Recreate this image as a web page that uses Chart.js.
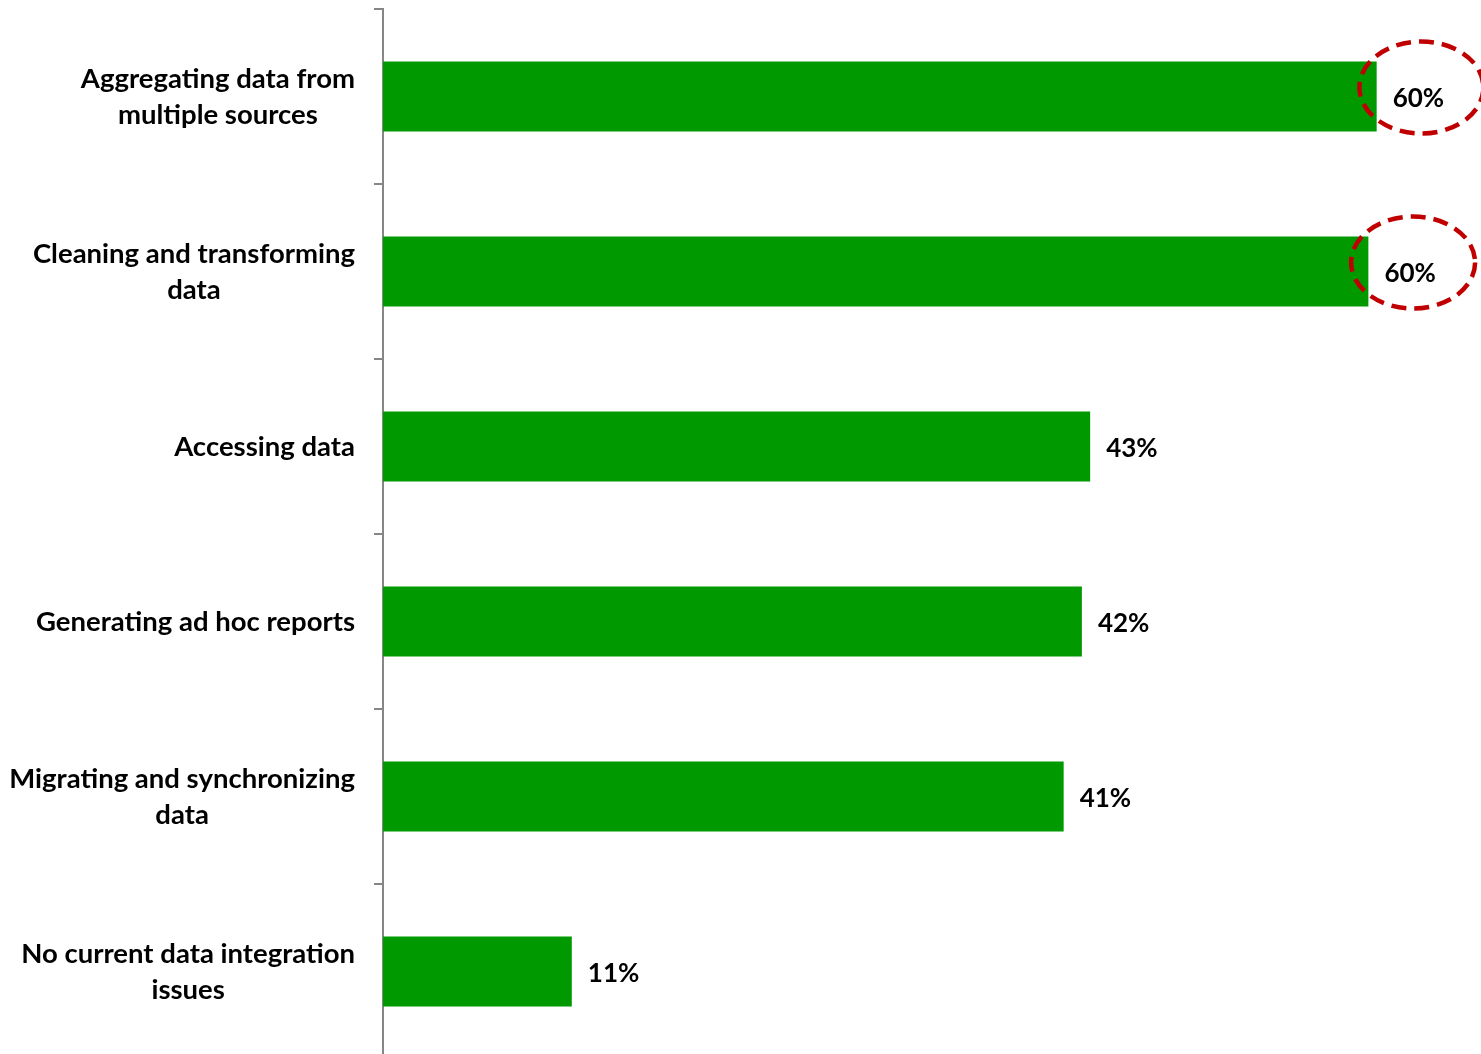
<!DOCTYPE html>
<html>
<head>
<meta charset="utf-8">
<script src="https://cdn.jsdelivr.net/npm/chart.js@4"></script>
<style>
  html, body { margin: 0; padding: 0; background: #fff; overflow: hidden; }
  canvas { display: block; }
</style>
</head>
<body>
<canvas id="myChart" width="1481" height="1062"></canvas>
<script>
const categories = [
  ["Aggregating data from", "multiple sources"],
  ["Cleaning and transforming", "data"],
  ["Accessing data"],
  ["Generating ad hoc reports"],
  ["Migrating and synchronizing", "data"],
  ["No current data integration", "issues"],
];
const values = [60.0, 59.5, 42.7, 42.2, 41.1, 11.4];
const circled = [true, true, false, false, false, false];

const labelFont = "bold 27.5px Lato";
const valueFont = "bold 26px Lato";

// category labels: block right-aligned, lines centered inside the block
const categoryLabels = {
  id: "categoryLabels",
  afterDraw: (chart) => {
    const ctx = chart.ctx;
    const yScale = chart.scales.y;
    const rightEdge = yScale.right - 28;
    ctx.save();
    ctx.font = labelFont;
    ctx.fillStyle = "#000";
    ctx.textAlign = "center";
    ctx.textBaseline = "middle";
    categories.forEach((lines, i) => {
      const y = yScale.getPixelForValue(i);
      const widest = Math.max(...lines.map((l) => ctx.measureText(l).width));
      const cx = rightEdge - widest / 2;
      lines.forEach((line, j) => {
        ctx.fillText(line, cx, y + 1 + (j - (lines.length - 1) / 2) * 36);
      });
    });
    ctx.restore();
  },
};

// value labels after the bars, with dashed ellipses on the highlighted ones
const valueLabels = {
  id: "valueLabels",
  afterDatasetsDraw: (chart) => {
    const ctx = chart.ctx;
    const meta = chart.getDatasetMeta(0);
    ctx.save();
    ctx.font = valueFont;
    ctx.fillStyle = "#000";
    ctx.textAlign = "left";
    ctx.textBaseline = "middle";
    meta.data.forEach((bar, i) => {
      const text = Math.round(values[i]) + "%";
      const x = bar.x + 16;
      ctx.fillText(text, x, bar.y + 2);
      if (circled[i]) {
        const w = ctx.measureText(text).width;
        ctx.save();
        ctx.strokeStyle = "#C00000";
        ctx.lineWidth = 4.5;
        ctx.setLineDash([15, 8]);
        ctx.beginPath();
        ctx.ellipse(x + w / 2 + 3, bar.y - 9, 62, 46, 0, 0, Math.PI * 2);
        ctx.stroke();
        ctx.restore();
      }
    });
    ctx.restore();
  },
};

const ctx = document.getElementById("myChart").getContext("2d");
const chart = new Chart(ctx, {
  type: "bar",
  data: {
    labels: categories,
    datasets: [
      {
        data: values,
        backgroundColor: "#009900",
        borderWidth: 0,
        barPercentage: 0.8,
        categoryPercentage: 0.5,
      },
    ],
  },
  options: {
    indexAxis: "y",
    responsive: false,
    animation: false,
    layout: { padding: { top: 9, bottom: 3, left: 0, right: 0 } },
    plugins: {
      legend: { display: false },
      tooltip: { enabled: false },
    },
    scales: {
      x: {
        display: false,
        min: 0,
        max: 66.3,
      },
      y: {
        afterFit: (scale) => {
          scale.width = 383;
        },
        ticks: { display: false },
        grid: {
          offset: true,
          drawOnChartArea: false,
          drawTicks: true,
          tickLength: 9,
          color: "#868686",
          lineWidth: 2,
        },
        border: { display: true, color: "#868686", width: 2 },
      },
    },
  },
  plugins: [categoryLabels, valueLabels],
});
</script>
</body>
</html>
